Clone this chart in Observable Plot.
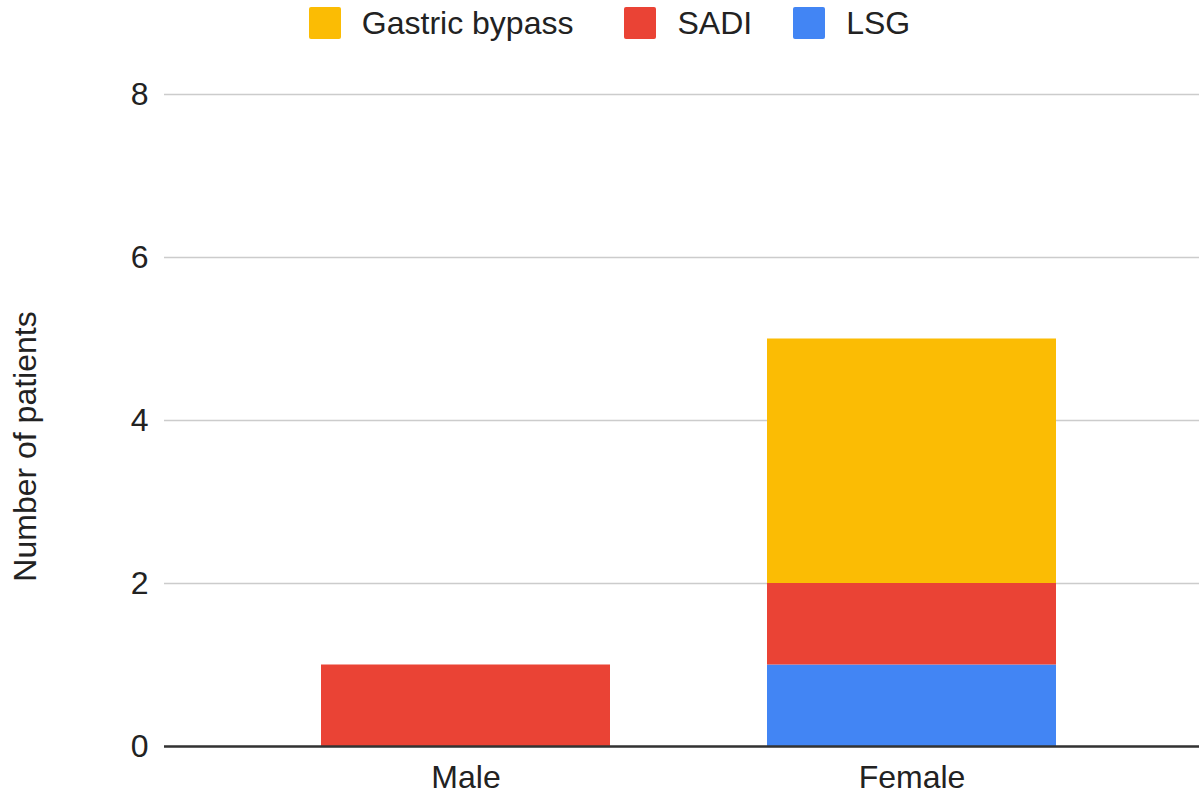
<!DOCTYPE html>
<html>
<head>
<meta charset="utf-8">
<script src="https://cdn.jsdelivr.net/npm/d3@7"></script>
<script src="https://cdn.jsdelivr.net/npm/@observablehq/plot@0.6"></script>
<style>
  html, body { margin: 0; padding: 0; background: #fff; }
  body { font-family: "Liberation Sans", Arial, sans-serif; color: #222; width: 1199px; }
  #legend { height: 46px; display: flex; justify-content: center; align-items: center; padding-left: 20px; box-sizing: border-box; }
  .item { display: flex; align-items: center; font-size: 32px; }
  .item:nth-child(1) { margin-right: 51px; }
  .item:nth-child(2) { margin-right: 41px; }
  .sw { width: 32px; height: 32px; border-radius: 2px; margin-right: 21px; }
  svg { display: block; }
</style>
</head>
<body>
<div id="legend"></div>
<div id="chart"></div>
<script>
const categories = ["Male", "Female"];
const procedures = ["Gastric bypass", "SADI", "LSG"];
const colors = ["#FBBC04", "#EA4335", "#4285F4"];
const lsgCounts = [0, 1];
const sadiCounts = [1, 1];
const bypassCounts = [0, 3];
const yTicks = [0, 2, 4, 6, 8];
const yLabel = "Number of patients";

// stacking order: bottom to top
const rows = [];
categories.forEach((c, i) => {
  rows.push({sex: c, procedure: "LSG", n: lsgCounts[i]});
  rows.push({sex: c, procedure: "SADI", n: sadiCounts[i]});
  rows.push({sex: c, procedure: "Gastric bypass", n: bypassCounts[i]});
});
const data = rows.filter(d => d.n > 0);

// legend
const legend = document.getElementById("legend");
procedures.forEach((p, i) => {
  const it = document.createElement("div");
  it.className = "item";
  const sw = document.createElement("div");
  sw.className = "sw";
  sw.style.background = colors[i];
  const t = document.createElement("span");
  t.textContent = p;
  it.appendChild(sw);
  it.appendChild(t);
  legend.appendChild(it);
});

const chart = Plot.plot({
  width: 1199,
  height: 750,
  marginLeft: 164,
  marginRight: 0,
  marginTop: 48,
  marginBottom: 50,
  style: {fontFamily: "'Liberation Sans', Arial, sans-serif", fontSize: "32px", color: "#222", background: "#fff"},
  x: {domain: categories, range: [164, 1213], padding: 0.352, label: null},
  y: {domain: [0, 8], label: null},
  color: {domain: procedures, range: colors},
  marks: [
    Plot.gridY(yTicks, {stroke: "#cccccc", strokeOpacity: 1, strokeWidth: 1.6}),
    Plot.barY(data, {x: "sex", y: "n", fill: "procedure", inset: 0}),
    Plot.ruleY([0], {stroke: "#333", strokeWidth: 2.5}),
    Plot.axisY(yTicks, {tickSize: 0, tickPadding: 16, label: null, fontSize: 32, fill: "#222", tickFormat: d3.format("d")}),
    Plot.axisX({tickSize: 0, tickPadding: 19, label: null, fontSize: 32, fill: "#222"}),
    Plot.text([yLabel], {frameAnchor: "left", textAnchor: "middle", rotate: -90, dx: -139, dy: 26, fontSize: 32, fill: "#222", text: d => d})
  ]
});
document.getElementById("chart").appendChild(chart);
</script>
</body>
</html>
